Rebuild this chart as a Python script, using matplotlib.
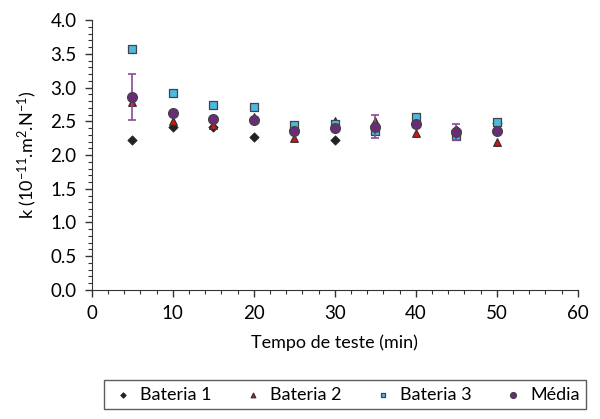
import matplotlib

matplotlib.use("Agg")
import matplotlib.pyplot as plt
from matplotlib.ticker import MultipleLocator

plt.rcParams["font.family"] = ["Lato", "DejaVu Sans"]
plt.rcParams["mathtext.default"] = "regular"

# time (min)
tempo = [5, 10, 15, 20, 25, 30, 35, 40, 45, 50]

# k values (10^-11 m^2/N)
bateria1 = [2.22, 2.41, 2.41, 2.27, 2.39, 2.22, 2.42, 2.48, 2.37, 2.48]
bateria2 = [2.79, 2.51, 2.44, 2.56, 2.25, 2.51, 2.50, 2.32, 2.37, 2.19]
bateria3 = [3.57, 2.92, 2.74, 2.71, 2.44, 2.46, 2.35, 2.57, 2.28, 2.49]
media = [2.86, 2.62, 2.54, 2.52, 2.35, 2.40, 2.42, 2.46, 2.34, 2.36]
erro = [0.34, 0.0, 0.0, 0.0, 0.0, 0.0, 0.17, 0.0, 0.12, 0.0]

fig = plt.figure(figsize=(6.0, 4.19), dpi=100)
ax = fig.add_axes([0.153, 0.308, 0.81, 0.644])

ax.scatter(tempo, bateria1, marker="D", s=22, color="#222222",
           edgecolors="#222222", linewidths=0.6, zorder=3, label="Bateria 1")
ax.scatter(tempo, bateria2, marker="^", s=30, color="#e01010",
           edgecolors="#333333", linewidths=0.9, zorder=3, label="Bateria 2")
ax.scatter(tempo, bateria3, marker="s", s=30, color="#4cb8e4",
           edgecolors="#444444", linewidths=0.9, zorder=3, label="Bateria 3")
ax.errorbar(tempo, media, yerr=erro, fmt="none", ecolor="#8c4a9a",
            elinewidth=1.2, capsize=3, capthick=1.2, zorder=4)
ax.scatter(tempo, media, marker="o", s=50, color="#6a2b78",
           edgecolors="#444444", linewidths=0.9, zorder=5, label="Média")

ax.set_xlim(0, 60)
ax.set_ylim(0, 4.0)
ax.xaxis.set_major_locator(MultipleLocator(10))
ax.xaxis.set_minor_locator(MultipleLocator(2))
ax.yaxis.set_major_locator(MultipleLocator(0.5))
ax.yaxis.set_minor_locator(MultipleLocator(0.1))
ax.yaxis.set_major_formatter(plt.FormatStrFormatter("%.1f"))

for s in ("top", "right"):
    ax.spines[s].set_visible(False)
for s in ("left", "bottom"):
    ax.spines[s].set_color("#333333")
ax.tick_params(which="major", direction="out", length=5, width=1,
               color="#333333", labelsize=13.5, pad=6)
ax.tick_params(which="minor", direction="out", length=3, width=0.8,
               color="#333333")

ax.set_xlabel("Tempo de teste (min)", fontsize=13, labelpad=9)
ax.set_ylabel("k (10$^{-11}$.m$^{2}$.N$^{-1}$)", fontsize=13, labelpad=8)

fig.legend(loc="upper center", bbox_to_anchor=(0.575, 0.114), ncol=4,
           frameon=True, fancybox=False, edgecolor="#333333", fontsize=13,
           handletextpad=0.25, columnspacing=1.6, markerscale=0.6,
           borderpad=0.35, handlelength=1.4)

plt.savefig("out.png", dpi=100)
